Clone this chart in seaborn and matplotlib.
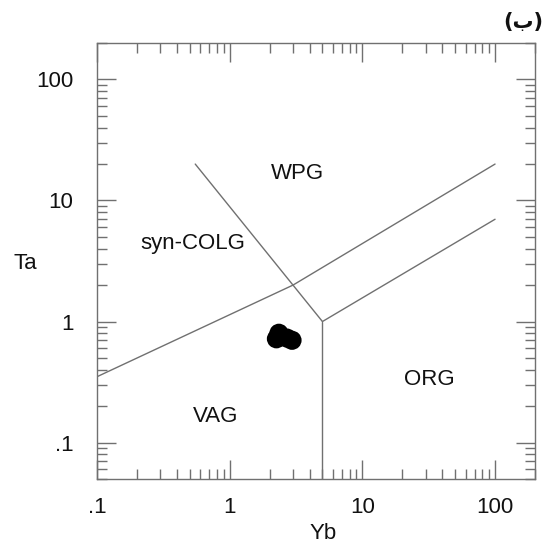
import matplotlib
matplotlib.use("Agg")
import matplotlib.pyplot as plt
import matplotlib.ticker as mticker
import seaborn as sns
import pandas as pd

# Sample data (Yb, Ta in ppm)
yb_values = [2.25, 2.35, 2.7, 2.95]
ta_values = [0.72, 0.80, 0.73, 0.70]

# Discrimination boundaries (Pearce et al., 1984)
wpg_vag_yb = [0.55, 3.0, 5.0]
wpg_vag_ta = [20.0, 2.0, 1.0]
org_vag_yb = [5.0, 5.0]
org_vag_ta = [1.0, 0.05]
wpg_org_yb = [5.0, 100.0]
wpg_org_ta = [1.0, 7.0]
colg_vag_yb = [0.1, 3.0, 100.0]
colg_vag_ta = [0.35, 2.0, 20.0]

field_names = ["WPG", "syn-COLG", "VAG", "ORG"]
field_yb = [3.24, 0.53, 0.785, 32.0]
field_ta = [16.7, 4.42, 0.165, 0.333]

tick_values = [0.1, 1, 10, 100]
tick_labels = [".1", "1", "10", "100"]

sns.set_theme(style="white")
plt.rcParams["font.family"] = ["Liberation Sans", "DejaVu Sans"]

FS = 16

fig = plt.figure(figsize=(5.54, 5.46), dpi=100)
ax = fig.add_axes([0.1751, 0.1227, 0.7906, 0.7985])
ax.set_xscale("log")
ax.set_yscale("log")
ax.set_xlim(0.1, 200)
ax.set_ylim(0.05, 200)

line_kw = dict(color="#707070", lw=1.0)
for xs, ys in [(wpg_vag_yb, wpg_vag_ta), (org_vag_yb, org_vag_ta),
               (wpg_org_yb, wpg_org_ta), (colg_vag_yb, colg_vag_ta)]:
    ax.plot(xs, ys, **line_kw)

df = pd.DataFrame({"Yb": yb_values, "Ta": ta_values})
sns.scatterplot(data=df, x="Yb", y="Ta", ax=ax, color="black", s=190,
                edgecolor="none", zorder=5)

for name, x, y in zip(field_names, field_yb, field_ta):
    ax.text(x, y, name, ha="center", va="center", fontsize=FS, color="#111111")

for s in ax.spines.values():
    s.set_color("#707070")
    s.set_linewidth(1.0)

ax.xaxis.set_major_locator(mticker.FixedLocator(tick_values))
ax.yaxis.set_major_locator(mticker.FixedLocator(tick_values))
ax.xaxis.set_major_formatter(mticker.FixedFormatter(tick_labels))
ax.yaxis.set_major_formatter(mticker.FixedFormatter(tick_labels))
ax.xaxis.set_minor_locator(mticker.LogLocator(base=10, subs=range(2, 10)))
ax.yaxis.set_minor_locator(mticker.LogLocator(base=10, subs=range(2, 10)))
ax.xaxis.set_minor_formatter(mticker.NullFormatter())
ax.yaxis.set_minor_formatter(mticker.NullFormatter())
ax.tick_params(which="both", direction="in", top=True, right=True,
               bottom=True, left=True, color="#707070", width=1.0)
ax.tick_params(which="major", length=14, labelsize=FS, labelcolor="#111111")
ax.tick_params(which="minor", length=7)
ax.tick_params(axis="x", which="major", pad=13)
ax.tick_params(axis="y", which="major", pad=17)

ax.set_xlabel("Yb", fontsize=FS, color="#111111", va="center")
ax.set_ylabel("Ta", fontsize=FS, color="#111111", rotation=0, ha="center", va="center")
ax.xaxis.set_label_coords(0.516, -0.126)
ax.yaxis.set_label_coords(-0.163, 0.494)
ax.grid(False)

fig.text(0.944, 0.96, "(ب)", ha="center", va="center", fontsize=15,
         fontweight="bold", family=["DejaVu Sans"], color="#111111")

fig.savefig("out.png", dpi=100, facecolor="white")
